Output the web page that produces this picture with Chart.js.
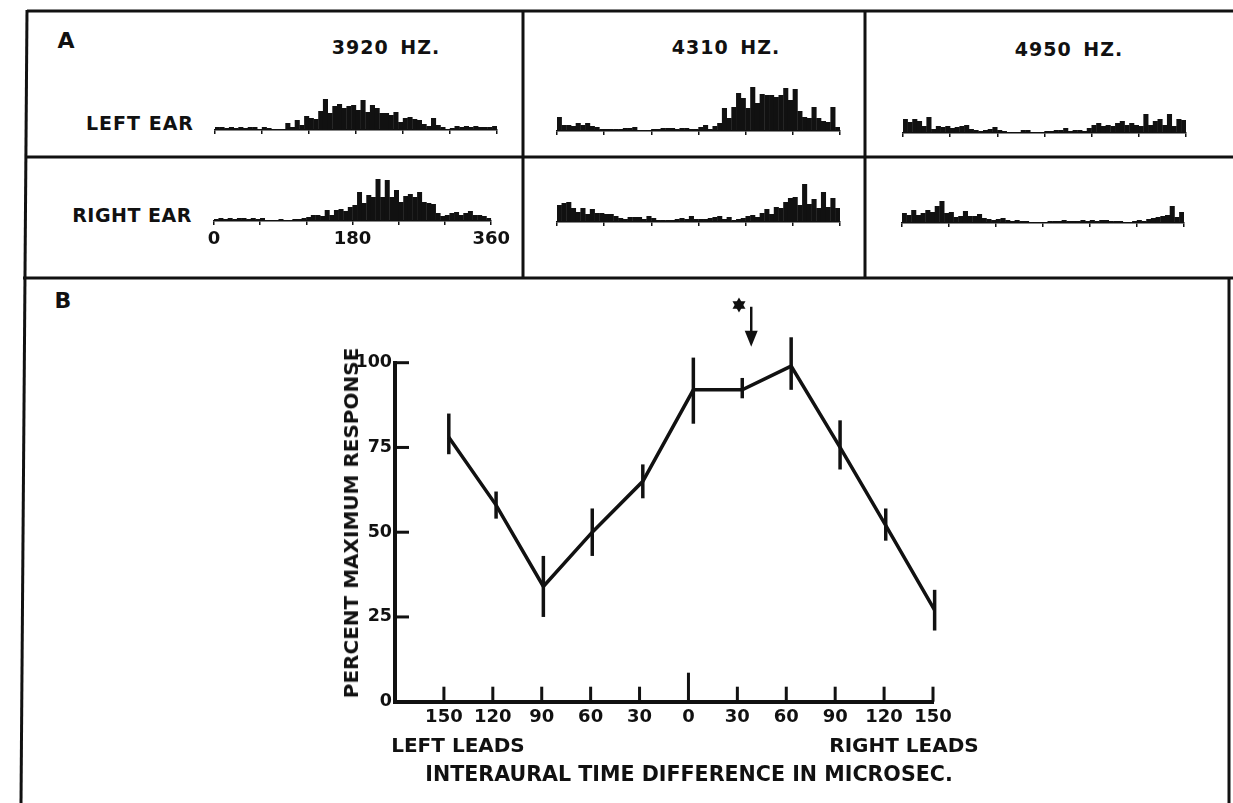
<!DOCTYPE html>
<html>
<head>
<meta charset="utf-8">
<script src="https://cdn.jsdelivr.net/npm/chart.js@4.4.1/dist/chart.umd.min.js"></script>
<style>
  body { margin: 0; background: #fff; }
  #page { position: relative; width: 1233px; height: 803px; overflow: hidden; background: #fff; }
  #page canvas, #frame { position: absolute; }
  .lbl { position: absolute; transform: translate(-50%, -50%); font: bold 19px "DejaVu Sans", sans-serif; color: #111; white-space: nowrap; }
  .rot { transform: translate(-50%, -50%) rotate(-90deg); }
</style>
</head>
<body>
<div id="page">
  <svg id="frame" width="1233" height="803" style="left:0;top:0">
    <g stroke="#111" stroke-width="3" fill="none">
      <line x1="27" y1="11" x2="1233" y2="11"/>
      <line x1="27" y1="10" x2="21" y2="803"/>
      <line x1="25" y1="157" x2="1233" y2="157"/>
      <line x1="23" y1="278" x2="1233" y2="278"/>
      <line x1="523" y1="11" x2="523" y2="278"/>
      <line x1="865" y1="11" x2="865" y2="278"/>
      <line x1="1229" y1="278" x2="1229" y2="803"/>
    </g>
  </svg>

  <div class="lbl" style="left:66px;top:40px;font-size:22px">A</div>
  <div class="lbl" style="left:63px;top:300px;font-size:22px">B</div>
  <div class="lbl" style="left:386px;top:47px;letter-spacing:1px;word-spacing:4px">3920 HZ.</div>
  <div class="lbl" style="left:726px;top:47px;letter-spacing:1px;word-spacing:4px">4310 HZ.</div>
  <div class="lbl" style="left:1069px;top:49px;letter-spacing:1px;word-spacing:4px">4950 HZ.</div>
  <div class="lbl" style="left:140px;top:123px;letter-spacing:1px">LEFT EAR</div>
  <div class="lbl" style="left:132px;top:215px;letter-spacing:0.5px">RIGHT EAR</div>

  <canvas id="h1"></canvas>
  <canvas id="h2"></canvas>
  <canvas id="h3"></canvas>
  <canvas id="h4"></canvas>
  <canvas id="h5"></canvas>
  <canvas id="h6"></canvas>

  <canvas id="tuning"></canvas>
  <div class="lbl rot" style="left:351px;top:523px;font-size:20px">PERCENT MAXIMUM RESPONSE</div>
  <div class="lbl" style="left:458px;top:745px;font-size:20px">LEFT LEADS</div>
  <div class="lbl" style="left:904px;top:745px;font-size:20px">RIGHT LEADS</div>
  <div class="lbl" style="left:689px;top:774px;font-size:20.6px">INTERAURAL TIME DIFFERENCE IN MICROSEC.</div>
</div>

<script>
// Panel A: period histograms, 60 bins over 0-360 deg of stimulus phase
const phaseTicks = [0, 60, 120, 180, 240, 300, 360];
const phaseLabels = [0, 180, 360];
const binWidth = 6;
const binCentres = Array.from({ length: 60 }, (_, i) => binWidth * i + binWidth / 2);

const left3920 = [3, 3, 2, 3, 2, 3, 2, 3, 3, 1, 3, 2, 0, 1, 0, 7, 3, 10, 5, 14,
  12, 11, 19, 31, 17, 24, 26, 22, 24, 25, 20, 30, 18, 25, 22, 17, 17, 15, 18, 8,
  12, 13, 11, 10, 6, 4, 12, 5, 3, 1, 2, 4, 3, 4, 3, 4, 3, 3, 3, 4];
const right3920 = [2, 3, 2, 3, 2, 3, 3, 2, 3, 2, 3, 1, 0, 0, 2, 0, 1, 2, 2, 3,
  4, 6, 6, 5, 11, 6, 11, 12, 10, 14, 16, 29, 18, 26, 24, 42, 24, 41, 24, 31,
  19, 25, 27, 24, 29, 19, 18, 17, 8, 5, 6, 8, 9, 6, 8, 10, 6, 6, 5, 3];
const left4310 = [14, 6, 6, 5, 8, 6, 8, 5, 4, 2, 2, 2, 2, 2, 3, 3, 4, 1, 1, 1,
  2, 2, 3, 3, 3, 2, 3, 3, 2, 2, 4, 6, 2, 5, 8, 23, 13, 24, 38, 33,
  23, 44, 28, 37, 36, 36, 34, 36, 43, 31, 42, 20, 14, 13, 24, 13, 10, 9, 24, 4];
const right4310 = [17, 19, 20, 14, 10, 14, 8, 13, 9, 9, 8, 8, 6, 4, 3, 5, 5, 5, 3, 6,
  4, 2, 2, 2, 2, 3, 4, 3, 6, 3, 3, 3, 4, 5, 6, 3, 5, 2, 3, 4,
  6, 7, 5, 9, 13, 8, 15, 14, 20, 24, 25, 17, 38, 18, 23, 14, 30, 15, 24, 14];
const left4950 = [14, 11, 14, 12, 7, 16, 4, 7, 6, 7, 5, 6, 7, 8, 4, 3, 2, 3, 4, 6,
  3, 2, 1, 1, 1, 3, 3, 1, 1, 1, 2, 2, 3, 3, 5, 2, 3, 3, 2, 5,
  8, 10, 7, 8, 7, 10, 12, 8, 10, 8, 7, 19, 8, 12, 14, 8, 19, 7, 14, 13];
const right4950 = [10, 8, 13, 8, 10, 13, 11, 17, 22, 10, 11, 6, 7, 12, 7, 7, 9, 5, 4, 3,
  4, 5, 3, 2, 3, 2, 2, 1, 1, 1, 1, 2, 2, 2, 3, 2, 2, 2, 3, 2,
  3, 2, 3, 3, 2, 2, 2, 0, 1, 2, 3, 2, 4, 5, 6, 7, 8, 17, 6, 11];

// Panel B: tuning to interaural delay (negative = left leads)
const delays = [-147, -118, -89, -59, -28, 3, 33, 63, 93, 121, 151];
const response = [78, 58, 34, 50, 65, 92, 92, 99, 75, 52, 27];
const errLow = [73, 54, 25, 43, 60, 82, 89.5, 92, 68.5, 47.5, 21];
const errHigh = [85, 62, 43, 57, 70, 101.5, 95.5, 107.5, 83, 57, 33];
const delayTicks = [-150, -120, -90, -60, -30, 0, 30, 60, 90, 120, 150];
const percentTicks = [0, 25, 50, 75, 100];
const bestDelay = { x: 38.5, top: 116.5, tip: 104.7, starX: 31, starY: 117 };

const ink = '#111';
Chart.defaults.font.family = '"DejaVu Sans", sans-serif';
Chart.defaults.font.weight = 'bold';
Chart.defaults.color = ink;

const HIST_H = 45;   // px of chart area, 1 count = 1 px
const SIDE = 20;

function histogram(id, counts, x0, x1, baseline, withLabels) {
  const canvas = document.getElementById(id);
  const axisH = withLabels ? 34 : 4;
  canvas.width = x1 - x0 + 2 * SIDE;
  canvas.height = HIST_H + axisH;
  canvas.style.left = (x0 - SIDE) + 'px';
  canvas.style.top = (baseline - HIST_H) + 'px';

  new Chart(canvas, {
    type: 'bar',
    data: {
      datasets: [{
        data: counts.map((c, i) => ({ x: binCentres[i], y: c })),
        backgroundColor: ink,
        borderWidth: 0,
        barPercentage: 1.08,
        categoryPercentage: 1
      }]
    },
    options: {
      responsive: false,
      animation: false,
      events: [],
      layout: { padding: { left: SIDE, right: SIDE, top: 0, bottom: 0 } },
      plugins: { legend: { display: false }, tooltip: { enabled: false } },
      scales: {
        x: {
          type: 'linear', min: 0, max: 360, offset: false,
          afterBuildTicks: s => { s.ticks = phaseTicks.map(v => ({ value: v })); },
          afterFit: s => { s.height = axisH; },
          grid: { offset: false, drawOnChartArea: false, drawTicks: true, tickLength: 4, color: ink, lineWidth: 1.5 },
          border: { color: ink, width: 1.5 },
          ticks: {
            display: withLabels, autoSkip: false, maxRotation: 0, padding: 4,
            font: { size: 18, weight: 'bold' },
            callback: v => phaseLabels.includes(v) ? String(v) : ''
          }
        },
        y: { display: false, min: 0, max: HIST_H }
      }
    }
  });
}

histogram('h1', left3920, 215, 497, 130, false);
histogram('h2', right3920, 214, 494, 221, true);
histogram('h3', left4310, 557, 840, 131, false);
histogram('h4', right4310, 557, 840, 222, false);
histogram('h5', left4950, 903, 1186, 133, false);
histogram('h6', right4950, 902, 1184, 223, false);

// error bars, inward tick marks and the best-delay arrow
const marks = {
  id: 'marks',
  afterDatasetsDraw(chart) {
    const { ctx, chartArea, scales: { x, y } } = chart;
    const seg = (ax, ay, bx, by) => { ctx.beginPath(); ctx.moveTo(ax, ay); ctx.lineTo(bx, by); ctx.stroke(); };
    ctx.save();
    ctx.strokeStyle = ink;
    ctx.fillStyle = ink;
    ctx.lineWidth = 3.5;
    delays.forEach((d, i) => {
      const px = x.getPixelForValue(d);
      seg(px, y.getPixelForValue(errLow[i]), px, y.getPixelForValue(errHigh[i]));
    });
    ctx.lineWidth = 3;
    const base = chartArea.bottom;
    delayTicks.forEach(v => {
      const px = x.getPixelForValue(v);
      seg(px, base, px, base - (v === 0 ? 29 : 15));
    });
    percentTicks.filter(v => v > 0).forEach(v => {
      const py = y.getPixelForValue(v);
      seg(chartArea.left, py, chartArea.left + 14, py);
    });

    const ax = x.getPixelForValue(bestDelay.x);
    const top = y.getPixelForValue(bestDelay.top);
    const tip = y.getPixelForValue(bestDelay.tip);
    ctx.lineWidth = 2.5;
    seg(ax, top, ax, tip - 12);
    ctx.beginPath();
    ctx.moveTo(ax - 6.5, tip - 16);
    ctx.lineTo(ax + 6.5, tip - 16);
    ctx.lineTo(ax, tip);
    ctx.closePath();
    ctx.fill();

    // six-pointed star beside the arrow
    const sx = x.getPixelForValue(bestDelay.starX);
    const sy = y.getPixelForValue(bestDelay.starY);
    const r = 7.5;
    [-Math.PI / 2, Math.PI / 2].forEach(a0 => {
      ctx.beginPath();
      for (let k = 0; k < 3; k++) {
        const a = a0 + k * 2 * Math.PI / 3;
        ctx.lineTo(sx + r * Math.cos(a), sy + r * Math.sin(a));
      }
      ctx.closePath();
      ctx.fill();
    });
    ctx.restore();
  }
};

const tc = document.getElementById('tuning');
tc.width = 760; tc.height = 510;
tc.style.left = '260px'; tc.style.top = '290px';

new Chart(tc, {
  type: 'line',
  data: {
    datasets: [{
      data: delays.map((d, i) => ({ x: d, y: response[i] })),
      borderColor: ink,
      borderWidth: 3.5,
      pointRadius: 0,
      tension: 0,
      clip: false
    }]
  },
  options: {
    responsive: false,
    animation: false,
    events: [],
    layout: { padding: { left: 85, right: 87, top: 72.7, bottom: 58.3 } },
    plugins: { legend: { display: false }, tooltip: { enabled: false } },
    scales: {
      x: {
        type: 'linear', min: -180, max: 150,
        afterBuildTicks: s => { s.ticks = delayTicks.map(v => ({ value: v })); },
        afterFit: s => { s.height = 40; },
        grid: { display: false, drawTicks: false },
        border: { color: ink, width: 4 },
        ticks: { autoSkip: false, maxRotation: 0, padding: 5, font: { size: 18, weight: 'bold' }, callback: v => String(Math.abs(v)) }
      },
      y: {
        min: 0, max: 100,
        afterBuildTicks: s => { s.ticks = percentTicks.map(v => ({ value: v })); },
        afterFit: s => { s.width = 50; },
        grid: { display: false, drawTicks: false },
        border: { color: ink, width: 4 },
        ticks: { padding: 3, font: { size: 17.5, weight: 'bold' } }
      }
    }
  },
  plugins: [marks]
});
</script>
</body>
</html>
